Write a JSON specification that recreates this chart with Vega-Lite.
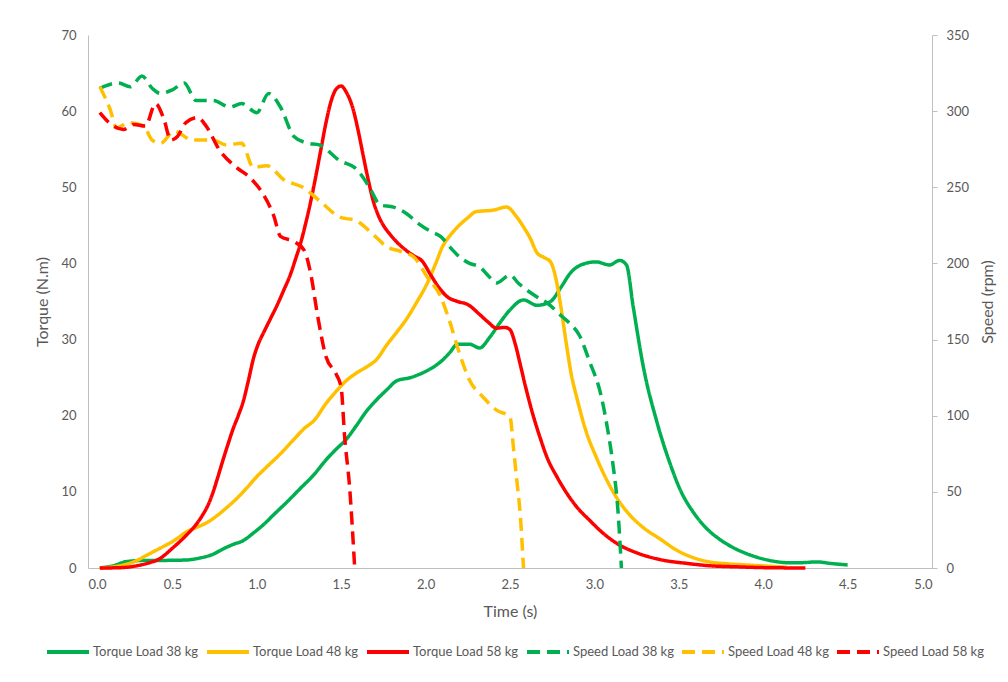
{
  "$schema": "https://vega.github.io/schema/vega-lite/v6.json",
  "width": 844,
  "height": 533,
  "autosize": {"type": "none"},
  "padding": {"left": 88, "top": 35, "right": 76, "bottom": 114},
  "background": "white",
  "config": {
    "view": {"stroke": null},
    "font": "Lato",
    "axis": {
      "grid": false,
      "domainColor": "#BFBFBF",
      "domainWidth": 1,
      "tickColor": "#BFBFBF",
      "labelColor": "#595959",
      "titleColor": "#595959",
      "labelFontSize": 13,
      "titleFontSize": 16,
      "titleFontWeight": "normal",
      "labelFont": "Lato",
      "titleFont": "Lato"
    },
    "legend": {
      "labelFont": "Lato",
      "labelFontSize": 13,
      "labelColor": "#595959"
    }
  },
  "datasets": {
    "torque": [
      {"s": "Torque Load 38 kg", "t": 0.07, "v": 0},
      {"s": "Torque Load 38 kg", "t": 0.15, "v": 0.3},
      {"s": "Torque Load 38 kg", "t": 0.23, "v": 0.85},
      {"s": "Torque Load 38 kg", "t": 0.35, "v": 1.0},
      {"s": "Torque Load 38 kg", "t": 0.45, "v": 1.0},
      {"s": "Torque Load 38 kg", "t": 0.58, "v": 1.05},
      {"s": "Torque Load 38 kg", "t": 0.66, "v": 1.3},
      {"s": "Torque Load 38 kg", "t": 0.74, "v": 1.8},
      {"s": "Torque Load 38 kg", "t": 0.80, "v": 2.5},
      {"s": "Torque Load 38 kg", "t": 0.86, "v": 3.1},
      {"s": "Torque Load 38 kg", "t": 0.92, "v": 3.6},
      {"s": "Torque Load 38 kg", "t": 0.98, "v": 4.6},
      {"s": "Torque Load 38 kg", "t": 1.04, "v": 5.7},
      {"s": "Torque Load 38 kg", "t": 1.10, "v": 7.0},
      {"s": "Torque Load 38 kg", "t": 1.18, "v": 8.7},
      {"s": "Torque Load 38 kg", "t": 1.26, "v": 10.5},
      {"s": "Torque Load 38 kg", "t": 1.34, "v": 12.3},
      {"s": "Torque Load 38 kg", "t": 1.41, "v": 14.2},
      {"s": "Torque Load 38 kg", "t": 1.47, "v": 15.6},
      {"s": "Torque Load 38 kg", "t": 1.53, "v": 16.9},
      {"s": "Torque Load 38 kg", "t": 1.59, "v": 18.7},
      {"s": "Torque Load 38 kg", "t": 1.65, "v": 20.6},
      {"s": "Torque Load 38 kg", "t": 1.71, "v": 22.1},
      {"s": "Torque Load 38 kg", "t": 1.77, "v": 23.4},
      {"s": "Torque Load 38 kg", "t": 1.83, "v": 24.6},
      {"s": "Torque Load 38 kg", "t": 1.91, "v": 25.0},
      {"s": "Torque Load 38 kg", "t": 1.98, "v": 25.6},
      {"s": "Torque Load 38 kg", "t": 2.04, "v": 26.3},
      {"s": "Torque Load 38 kg", "t": 2.09, "v": 27.1},
      {"s": "Torque Load 38 kg", "t": 2.14, "v": 28.2},
      {"s": "Torque Load 38 kg", "t": 2.19, "v": 29.4},
      {"s": "Torque Load 38 kg", "t": 2.26, "v": 29.4},
      {"s": "Torque Load 38 kg", "t": 2.32, "v": 28.9},
      {"s": "Torque Load 38 kg", "t": 2.38, "v": 30.3},
      {"s": "Torque Load 38 kg", "t": 2.44, "v": 32.2},
      {"s": "Torque Load 38 kg", "t": 2.50, "v": 33.9},
      {"s": "Torque Load 38 kg", "t": 2.58, "v": 35.2},
      {"s": "Torque Load 38 kg", "t": 2.66, "v": 34.5},
      {"s": "Torque Load 38 kg", "t": 2.74, "v": 35.0},
      {"s": "Torque Load 38 kg", "t": 2.80, "v": 36.8},
      {"s": "Torque Load 38 kg", "t": 2.86, "v": 38.8},
      {"s": "Torque Load 38 kg", "t": 2.92, "v": 39.8},
      {"s": "Torque Load 38 kg", "t": 3.01, "v": 40.2},
      {"s": "Torque Load 38 kg", "t": 3.09, "v": 39.8},
      {"s": "Torque Load 38 kg", "t": 3.15, "v": 40.4},
      {"s": "Torque Load 38 kg", "t": 3.19, "v": 39.8},
      {"s": "Torque Load 38 kg", "t": 3.23, "v": 34.3},
      {"s": "Torque Load 38 kg", "t": 3.29, "v": 26.4},
      {"s": "Torque Load 38 kg", "t": 3.37, "v": 19.2},
      {"s": "Torque Load 38 kg", "t": 3.45, "v": 13.6},
      {"s": "Torque Load 38 kg", "t": 3.51, "v": 10.2},
      {"s": "Torque Load 38 kg", "t": 3.59, "v": 7.2},
      {"s": "Torque Load 38 kg", "t": 3.66, "v": 5.3},
      {"s": "Torque Load 38 kg", "t": 3.74, "v": 3.8},
      {"s": "Torque Load 38 kg", "t": 3.82, "v": 2.7},
      {"s": "Torque Load 38 kg", "t": 3.90, "v": 1.9},
      {"s": "Torque Load 38 kg", "t": 3.98, "v": 1.3},
      {"s": "Torque Load 38 kg", "t": 4.06, "v": 0.9},
      {"s": "Torque Load 38 kg", "t": 4.14, "v": 0.7},
      {"s": "Torque Load 38 kg", "t": 4.22, "v": 0.7},
      {"s": "Torque Load 38 kg", "t": 4.32, "v": 0.8},
      {"s": "Torque Load 38 kg", "t": 4.40, "v": 0.6},
      {"s": "Torque Load 38 kg", "t": 4.50, "v": 0.4},

      {"s": "Torque Load 48 kg", "t": 0.07, "v": 0},
      {"s": "Torque Load 48 kg", "t": 0.15, "v": 0.15},
      {"s": "Torque Load 48 kg", "t": 0.23, "v": 0.5},
      {"s": "Torque Load 48 kg", "t": 0.29, "v": 1.0},
      {"s": "Torque Load 48 kg", "t": 0.35, "v": 1.7},
      {"s": "Torque Load 48 kg", "t": 0.41, "v": 2.4},
      {"s": "Torque Load 48 kg", "t": 0.47, "v": 3.1},
      {"s": "Torque Load 48 kg", "t": 0.53, "v": 3.9},
      {"s": "Torque Load 48 kg", "t": 0.58, "v": 4.7},
      {"s": "Torque Load 48 kg", "t": 0.64, "v": 5.3},
      {"s": "Torque Load 48 kg", "t": 0.70, "v": 5.9},
      {"s": "Torque Load 48 kg", "t": 0.76, "v": 6.8},
      {"s": "Torque Load 48 kg", "t": 0.82, "v": 7.9},
      {"s": "Torque Load 48 kg", "t": 0.88, "v": 9.1},
      {"s": "Torque Load 48 kg", "t": 0.94, "v": 10.5},
      {"s": "Torque Load 48 kg", "t": 1.00, "v": 12.0},
      {"s": "Torque Load 48 kg", "t": 1.06, "v": 13.3},
      {"s": "Torque Load 48 kg", "t": 1.14, "v": 15.0},
      {"s": "Torque Load 48 kg", "t": 1.22, "v": 16.9},
      {"s": "Torque Load 48 kg", "t": 1.28, "v": 18.3},
      {"s": "Torque Load 48 kg", "t": 1.34, "v": 19.4},
      {"s": "Torque Load 48 kg", "t": 1.41, "v": 21.6},
      {"s": "Torque Load 48 kg", "t": 1.47, "v": 23.2},
      {"s": "Torque Load 48 kg", "t": 1.53, "v": 24.6},
      {"s": "Torque Load 48 kg", "t": 1.59, "v": 25.6},
      {"s": "Torque Load 48 kg", "t": 1.65, "v": 26.4},
      {"s": "Torque Load 48 kg", "t": 1.71, "v": 27.4},
      {"s": "Torque Load 48 kg", "t": 1.77, "v": 29.3},
      {"s": "Torque Load 48 kg", "t": 1.83, "v": 31.0},
      {"s": "Torque Load 48 kg", "t": 1.89, "v": 32.8},
      {"s": "Torque Load 48 kg", "t": 1.95, "v": 35.0},
      {"s": "Torque Load 48 kg", "t": 2.01, "v": 37.4},
      {"s": "Torque Load 48 kg", "t": 2.06, "v": 40.0},
      {"s": "Torque Load 48 kg", "t": 2.10, "v": 42.2},
      {"s": "Torque Load 48 kg", "t": 2.15, "v": 43.8},
      {"s": "Torque Load 48 kg", "t": 2.19, "v": 44.8},
      {"s": "Torque Load 48 kg", "t": 2.25, "v": 46.0},
      {"s": "Torque Load 48 kg", "t": 2.30, "v": 46.8},
      {"s": "Torque Load 48 kg", "t": 2.40, "v": 47.0},
      {"s": "Torque Load 48 kg", "t": 2.48, "v": 47.4},
      {"s": "Torque Load 48 kg", "t": 2.54, "v": 46.1},
      {"s": "Torque Load 48 kg", "t": 2.58, "v": 44.8},
      {"s": "Torque Load 48 kg", "t": 2.62, "v": 43.3},
      {"s": "Torque Load 48 kg", "t": 2.66, "v": 41.4},
      {"s": "Torque Load 48 kg", "t": 2.70, "v": 40.8},
      {"s": "Torque Load 48 kg", "t": 2.74, "v": 40.2},
      {"s": "Torque Load 48 kg", "t": 2.77, "v": 38.2},
      {"s": "Torque Load 48 kg", "t": 2.80, "v": 34.5},
      {"s": "Torque Load 48 kg", "t": 2.83, "v": 30.0},
      {"s": "Torque Load 48 kg", "t": 2.86, "v": 25.8},
      {"s": "Torque Load 48 kg", "t": 2.90, "v": 22.0},
      {"s": "Torque Load 48 kg", "t": 2.95, "v": 18.0},
      {"s": "Torque Load 48 kg", "t": 3.01, "v": 14.6},
      {"s": "Torque Load 48 kg", "t": 3.07, "v": 11.7},
      {"s": "Torque Load 48 kg", "t": 3.13, "v": 9.3},
      {"s": "Torque Load 48 kg", "t": 3.20, "v": 7.2},
      {"s": "Torque Load 48 kg", "t": 3.29, "v": 5.3},
      {"s": "Torque Load 48 kg", "t": 3.39, "v": 3.8},
      {"s": "Torque Load 48 kg", "t": 3.49, "v": 2.3},
      {"s": "Torque Load 48 kg", "t": 3.58, "v": 1.4},
      {"s": "Torque Load 48 kg", "t": 3.68, "v": 0.8},
      {"s": "Torque Load 48 kg", "t": 3.79, "v": 0.55},
      {"s": "Torque Load 48 kg", "t": 3.90, "v": 0.4},
      {"s": "Torque Load 48 kg", "t": 4.02, "v": 0.25},
      {"s": "Torque Load 48 kg", "t": 4.14, "v": 0.1},

      {"s": "Torque Load 58 kg", "t": 0.07, "v": 0},
      {"s": "Torque Load 58 kg", "t": 0.15, "v": 0.02},
      {"s": "Torque Load 58 kg", "t": 0.23, "v": 0.1},
      {"s": "Torque Load 58 kg", "t": 0.29, "v": 0.3},
      {"s": "Torque Load 58 kg", "t": 0.35, "v": 0.6},
      {"s": "Torque Load 58 kg", "t": 0.43, "v": 1.3},
      {"s": "Torque Load 58 kg", "t": 0.50, "v": 2.6},
      {"s": "Torque Load 58 kg", "t": 0.55, "v": 3.6},
      {"s": "Torque Load 58 kg", "t": 0.60, "v": 4.7},
      {"s": "Torque Load 58 kg", "t": 0.64, "v": 5.7},
      {"s": "Torque Load 58 kg", "t": 0.68, "v": 7.0},
      {"s": "Torque Load 58 kg", "t": 0.71, "v": 8.2},
      {"s": "Torque Load 58 kg", "t": 0.74, "v": 9.9},
      {"s": "Torque Load 58 kg", "t": 0.77, "v": 12.0},
      {"s": "Torque Load 58 kg", "t": 0.80, "v": 14.2},
      {"s": "Torque Load 58 kg", "t": 0.83, "v": 16.3},
      {"s": "Torque Load 58 kg", "t": 0.86, "v": 18.3},
      {"s": "Torque Load 58 kg", "t": 0.89, "v": 20.0},
      {"s": "Torque Load 58 kg", "t": 0.92, "v": 21.9},
      {"s": "Torque Load 58 kg", "t": 0.95, "v": 24.6},
      {"s": "Torque Load 58 kg", "t": 0.98, "v": 27.5},
      {"s": "Torque Load 58 kg", "t": 1.01, "v": 29.5},
      {"s": "Torque Load 58 kg", "t": 1.04, "v": 30.9},
      {"s": "Torque Load 58 kg", "t": 1.08, "v": 32.7},
      {"s": "Torque Load 58 kg", "t": 1.12, "v": 34.5},
      {"s": "Torque Load 58 kg", "t": 1.16, "v": 36.5},
      {"s": "Torque Load 58 kg", "t": 1.20, "v": 38.6},
      {"s": "Torque Load 58 kg", "t": 1.23, "v": 40.6},
      {"s": "Torque Load 58 kg", "t": 1.26, "v": 42.7},
      {"s": "Torque Load 58 kg", "t": 1.29, "v": 45.3},
      {"s": "Torque Load 58 kg", "t": 1.32, "v": 48.2},
      {"s": "Torque Load 58 kg", "t": 1.35, "v": 51.5},
      {"s": "Torque Load 58 kg", "t": 1.38, "v": 55.0},
      {"s": "Torque Load 58 kg", "t": 1.41, "v": 58.5},
      {"s": "Torque Load 58 kg", "t": 1.44, "v": 61.3},
      {"s": "Torque Load 58 kg", "t": 1.47, "v": 62.9},
      {"s": "Torque Load 58 kg", "t": 1.50, "v": 63.3},
      {"s": "Torque Load 58 kg", "t": 1.53, "v": 62.5},
      {"s": "Torque Load 58 kg", "t": 1.57, "v": 60.3},
      {"s": "Torque Load 58 kg", "t": 1.60, "v": 57.5},
      {"s": "Torque Load 58 kg", "t": 1.63, "v": 54.2},
      {"s": "Torque Load 58 kg", "t": 1.66, "v": 51.0},
      {"s": "Torque Load 58 kg", "t": 1.69, "v": 48.2},
      {"s": "Torque Load 58 kg", "t": 1.72, "v": 46.3},
      {"s": "Torque Load 58 kg", "t": 1.75, "v": 45.0},
      {"s": "Torque Load 58 kg", "t": 1.79, "v": 43.8},
      {"s": "Torque Load 58 kg", "t": 1.83, "v": 42.8},
      {"s": "Torque Load 58 kg", "t": 1.88, "v": 41.8},
      {"s": "Torque Load 58 kg", "t": 1.93, "v": 41.0},
      {"s": "Torque Load 58 kg", "t": 1.98, "v": 40.3},
      {"s": "Torque Load 58 kg", "t": 2.03, "v": 38.5},
      {"s": "Torque Load 58 kg", "t": 2.08, "v": 36.8},
      {"s": "Torque Load 58 kg", "t": 2.13, "v": 35.6},
      {"s": "Torque Load 58 kg", "t": 2.19, "v": 35.0},
      {"s": "Torque Load 58 kg", "t": 2.25, "v": 34.6},
      {"s": "Torque Load 58 kg", "t": 2.32, "v": 33.3},
      {"s": "Torque Load 58 kg", "t": 2.37, "v": 32.3},
      {"s": "Torque Load 58 kg", "t": 2.42, "v": 31.5},
      {"s": "Torque Load 58 kg", "t": 2.47, "v": 31.6},
      {"s": "Torque Load 58 kg", "t": 2.50, "v": 31.3},
      {"s": "Torque Load 58 kg", "t": 2.53, "v": 29.5},
      {"s": "Torque Load 58 kg", "t": 2.56, "v": 26.8},
      {"s": "Torque Load 58 kg", "t": 2.59, "v": 24.0},
      {"s": "Torque Load 58 kg", "t": 2.63, "v": 20.6},
      {"s": "Torque Load 58 kg", "t": 2.68, "v": 17.0},
      {"s": "Torque Load 58 kg", "t": 2.72, "v": 14.5},
      {"s": "Torque Load 58 kg", "t": 2.78, "v": 11.9},
      {"s": "Torque Load 58 kg", "t": 2.84, "v": 9.7},
      {"s": "Torque Load 58 kg", "t": 2.90, "v": 7.9},
      {"s": "Torque Load 58 kg", "t": 2.97, "v": 6.3},
      {"s": "Torque Load 58 kg", "t": 3.05, "v": 4.6},
      {"s": "Torque Load 58 kg", "t": 3.15, "v": 3.0},
      {"s": "Torque Load 58 kg", "t": 3.25, "v": 2.0},
      {"s": "Torque Load 58 kg", "t": 3.39, "v": 1.1},
      {"s": "Torque Load 58 kg", "t": 3.55, "v": 0.6},
      {"s": "Torque Load 58 kg", "t": 3.68, "v": 0.3},
      {"s": "Torque Load 58 kg", "t": 3.85, "v": 0.15},
      {"s": "Torque Load 58 kg", "t": 4.00, "v": 0.05},
      {"s": "Torque Load 58 kg", "t": 4.25, "v": 0}
    ],
    "speed": [
      {"s": "Speed Load 38 kg", "t": 0.07, "v": 315},
      {"s": "Speed Load 38 kg", "t": 0.18, "v": 318.5},
      {"s": "Speed Load 38 kg", "t": 0.25, "v": 316},
      {"s": "Speed Load 38 kg", "t": 0.32, "v": 323},
      {"s": "Speed Load 38 kg", "t": 0.38, "v": 315},
      {"s": "Speed Load 38 kg", "t": 0.43, "v": 311.6},
      {"s": "Speed Load 38 kg", "t": 0.50, "v": 314},
      {"s": "Speed Load 38 kg", "t": 0.57, "v": 318.5},
      {"s": "Speed Load 38 kg", "t": 0.64, "v": 307},
      {"s": "Speed Load 38 kg", "t": 0.74, "v": 307},
      {"s": "Speed Load 38 kg", "t": 0.84, "v": 302.7},
      {"s": "Speed Load 38 kg", "t": 0.91, "v": 305},
      {"s": "Speed Load 38 kg", "t": 1.00, "v": 299},
      {"s": "Speed Load 38 kg", "t": 1.07, "v": 311.6},
      {"s": "Speed Load 38 kg", "t": 1.14, "v": 302.7},
      {"s": "Speed Load 38 kg", "t": 1.22, "v": 283.4},
      {"s": "Speed Load 38 kg", "t": 1.30, "v": 279},
      {"s": "Speed Load 38 kg", "t": 1.37, "v": 277.8},
      {"s": "Speed Load 38 kg", "t": 1.49, "v": 267.6},
      {"s": "Speed Load 38 kg", "t": 1.59, "v": 262},
      {"s": "Speed Load 38 kg", "t": 1.67, "v": 249.5},
      {"s": "Speed Load 38 kg", "t": 1.73, "v": 238.4},
      {"s": "Speed Load 38 kg", "t": 1.81, "v": 237},
      {"s": "Speed Load 38 kg", "t": 1.89, "v": 232.5},
      {"s": "Speed Load 38 kg", "t": 1.96, "v": 226},
      {"s": "Speed Load 38 kg", "t": 2.03, "v": 221},
      {"s": "Speed Load 38 kg", "t": 2.09, "v": 217.6},
      {"s": "Speed Load 38 kg", "t": 2.15, "v": 210},
      {"s": "Speed Load 38 kg", "t": 2.20, "v": 204.4},
      {"s": "Speed Load 38 kg", "t": 2.26, "v": 200},
      {"s": "Speed Load 38 kg", "t": 2.32, "v": 197.8},
      {"s": "Speed Load 38 kg", "t": 2.37, "v": 192},
      {"s": "Speed Load 38 kg", "t": 2.42, "v": 187.1},
      {"s": "Speed Load 38 kg", "t": 2.50, "v": 192.4},
      {"s": "Speed Load 38 kg", "t": 2.55, "v": 187},
      {"s": "Speed Load 38 kg", "t": 2.60, "v": 182.5},
      {"s": "Speed Load 38 kg", "t": 2.66, "v": 178},
      {"s": "Speed Load 38 kg", "t": 2.72, "v": 174},
      {"s": "Speed Load 38 kg", "t": 2.81, "v": 165},
      {"s": "Speed Load 38 kg", "t": 2.86, "v": 160},
      {"s": "Speed Load 38 kg", "t": 2.91, "v": 153},
      {"s": "Speed Load 38 kg", "t": 2.97, "v": 136},
      {"s": "Speed Load 38 kg", "t": 3.04, "v": 113},
      {"s": "Speed Load 38 kg", "t": 3.08, "v": 90},
      {"s": "Speed Load 38 kg", "t": 3.11, "v": 68},
      {"s": "Speed Load 38 kg", "t": 3.14, "v": 37},
      {"s": "Speed Load 38 kg", "t": 3.16, "v": 0},

      {"s": "Speed Load 48 kg", "t": 0.07, "v": 316},
      {"s": "Speed Load 48 kg", "t": 0.13, "v": 301.5},
      {"s": "Speed Load 48 kg", "t": 0.17, "v": 289},
      {"s": "Speed Load 48 kg", "t": 0.24, "v": 292.5},
      {"s": "Speed Load 48 kg", "t": 0.33, "v": 290.2},
      {"s": "Speed Load 48 kg", "t": 0.38, "v": 281},
      {"s": "Speed Load 48 kg", "t": 0.43, "v": 278.9},
      {"s": "Speed Load 48 kg", "t": 0.51, "v": 286.8},
      {"s": "Speed Load 48 kg", "t": 0.62, "v": 281},
      {"s": "Speed Load 48 kg", "t": 0.74, "v": 281},
      {"s": "Speed Load 48 kg", "t": 0.82, "v": 277.8},
      {"s": "Speed Load 48 kg", "t": 0.91, "v": 278.9},
      {"s": "Speed Load 48 kg", "t": 0.98, "v": 263},
      {"s": "Speed Load 48 kg", "t": 1.06, "v": 264.2},
      {"s": "Speed Load 48 kg", "t": 1.16, "v": 255},
      {"s": "Speed Load 48 kg", "t": 1.28, "v": 249.5},
      {"s": "Speed Load 48 kg", "t": 1.39, "v": 239.3},
      {"s": "Speed Load 48 kg", "t": 1.49, "v": 230.5},
      {"s": "Speed Load 48 kg", "t": 1.59, "v": 228},
      {"s": "Speed Load 48 kg", "t": 1.69, "v": 219},
      {"s": "Speed Load 48 kg", "t": 1.77, "v": 211},
      {"s": "Speed Load 48 kg", "t": 1.85, "v": 208},
      {"s": "Speed Load 48 kg", "t": 1.93, "v": 204.2},
      {"s": "Speed Load 48 kg", "t": 2.01, "v": 191},
      {"s": "Speed Load 48 kg", "t": 2.09, "v": 178},
      {"s": "Speed Load 48 kg", "t": 2.14, "v": 162.8},
      {"s": "Speed Load 48 kg", "t": 2.20, "v": 141.2},
      {"s": "Speed Load 48 kg", "t": 2.26, "v": 123.4},
      {"s": "Speed Load 48 kg", "t": 2.34, "v": 112.3},
      {"s": "Speed Load 48 kg", "t": 2.42, "v": 103.7},
      {"s": "Speed Load 48 kg", "t": 2.50, "v": 99.2},
      {"s": "Speed Load 48 kg", "t": 2.52, "v": 79.5},
      {"s": "Speed Load 48 kg", "t": 2.54, "v": 57.8},
      {"s": "Speed Load 48 kg", "t": 2.56, "v": 36.1},
      {"s": "Speed Load 48 kg", "t": 2.58, "v": 0},

      {"s": "Speed Load 58 kg", "t": 0.07, "v": 299},
      {"s": "Speed Load 58 kg", "t": 0.15, "v": 290.2},
      {"s": "Speed Load 58 kg", "t": 0.21, "v": 288},
      {"s": "Speed Load 58 kg", "t": 0.27, "v": 291.3},
      {"s": "Speed Load 58 kg", "t": 0.34, "v": 290.2},
      {"s": "Speed Load 58 kg", "t": 0.40, "v": 304.9},
      {"s": "Speed Load 58 kg", "t": 0.45, "v": 294.7},
      {"s": "Speed Load 58 kg", "t": 0.49, "v": 281},
      {"s": "Speed Load 58 kg", "t": 0.53, "v": 283.4},
      {"s": "Speed Load 58 kg", "t": 0.58, "v": 292.5},
      {"s": "Speed Load 58 kg", "t": 0.65, "v": 295.8},
      {"s": "Speed Load 58 kg", "t": 0.70, "v": 290.2},
      {"s": "Speed Load 58 kg", "t": 0.78, "v": 274.3},
      {"s": "Speed Load 58 kg", "t": 0.88, "v": 263},
      {"s": "Speed Load 58 kg", "t": 0.96, "v": 256.3},
      {"s": "Speed Load 58 kg", "t": 1.04, "v": 245},
      {"s": "Speed Load 58 kg", "t": 1.10, "v": 231.4},
      {"s": "Speed Load 58 kg", "t": 1.14, "v": 217.8},
      {"s": "Speed Load 58 kg", "t": 1.22, "v": 214.4},
      {"s": "Speed Load 58 kg", "t": 1.28, "v": 208.8},
      {"s": "Speed Load 58 kg", "t": 1.32, "v": 192.9},
      {"s": "Speed Load 58 kg", "t": 1.36, "v": 165.8},
      {"s": "Speed Load 58 kg", "t": 1.41, "v": 138.7},
      {"s": "Speed Load 58 kg", "t": 1.47, "v": 127.4},
      {"s": "Speed Load 58 kg", "t": 1.50, "v": 118.3},
      {"s": "Speed Load 58 kg", "t": 1.52, "v": 86.7},
      {"s": "Speed Load 58 kg", "t": 1.55, "v": 52.7},
      {"s": "Speed Load 58 kg", "t": 1.58, "v": 0}
    ]
  },
  "layer": [
    {
      "data": {"name": "torque"},
      "mark": {"type": "line", "interpolate": "monotone", "strokeWidth": 3.5, "strokeCap": "butt"},
      "encoding": {
        "x": {
          "field": "t", "type": "quantitative",
          "scale": {"domain": [0, 5], "nice": false},
          "axis": {"values": [0, 0.5, 1, 1.5, 2, 2.5, 3, 3.5, 4, 4.5, 5], "format": ".1f", "ticks": false, "labelPadding": 10, "title": "Time (s)", "titlePadding": 12}
        },
        "y": {
          "field": "v", "type": "quantitative",
          "scale": {"domain": [0, 70], "nice": false},
          "axis": {"values": [0, 10, 20, 30, 40, 50, 60, 70], "ticks": false, "labelPadding": 12, "title": "Torque (N.m)", "titlePadding": 10}
        },
        "color": {
          "field": "s", "type": "nominal",
          "scale": {
            "domain": ["Torque Load 38 kg", "Torque Load 48 kg", "Torque Load 58 kg", "Speed Load 38 kg", "Speed Load 48 kg", "Speed Load 58 kg"],
            "range": ["#00B050", "#FFC000", "#FF0000", "#00B050", "#FFC000", "#FF0000"]
          },
          "legend": {
            "title": null, "orient": "none", "legendX": -43, "legendY": 594, "direction": "horizontal", "columns": 6, "gridAlign": "each",
            "symbolType": "stroke", "symbolSize": 1764, "symbolStrokeWidth": 4, "labelOffset": 2, "columnPadding": 0, "padding": 0
          }
        },
        "strokeDash": {
          "field": "s", "type": "nominal",
          "scale": {
            "domain": ["Torque Load 38 kg", "Torque Load 48 kg", "Torque Load 58 kg", "Speed Load 38 kg", "Speed Load 48 kg", "Speed Load 58 kg"],
            "range": [[1, 0], [1, 0], [1, 0], [13, 7], [13, 7], [13, 7]]
          },
          "legend": {
            "title": null, "orient": "none", "legendX": -43, "legendY": 594, "direction": "horizontal", "columns": 6, "gridAlign": "each",
            "symbolType": "stroke", "symbolSize": 1764, "symbolStrokeWidth": 4, "labelOffset": 2, "columnPadding": 0, "padding": 0
          }
        }
      }
    },
    {
      "data": {"name": "speed"},
      "mark": {"type": "line", "interpolate": "monotone", "strokeWidth": 3.5, "strokeCap": "butt"},
      "encoding": {
        "x": {
          "field": "t", "type": "quantitative",
          "scale": {"domain": [0, 5], "nice": false},
          "axis": {"values": [0, 0.5, 1, 1.5, 2, 2.5, 3, 3.5, 4, 4.5, 5], "format": ".1f", "ticks": false, "labelPadding": 10, "title": "Time (s)", "titlePadding": 12}
        },
        "y": {
          "field": "v", "type": "quantitative",
          "scale": {"domain": [0, 350], "nice": false},
          "axis": {"orient": "right", "values": [0, 50, 100, 150, 200, 250, 300, 350], "ticks": true, "tickSize": 5, "labelPadding": 9, "title": "Speed (rpm)", "titleAngle": 270, "titlePadding": 27}
        },
        "color": {"field": "s", "type": "nominal"},
        "strokeDash": {"field": "s", "type": "nominal"}
      }
    }
  ],
  "resolve": {"scale": {"y": "independent"}}
}
